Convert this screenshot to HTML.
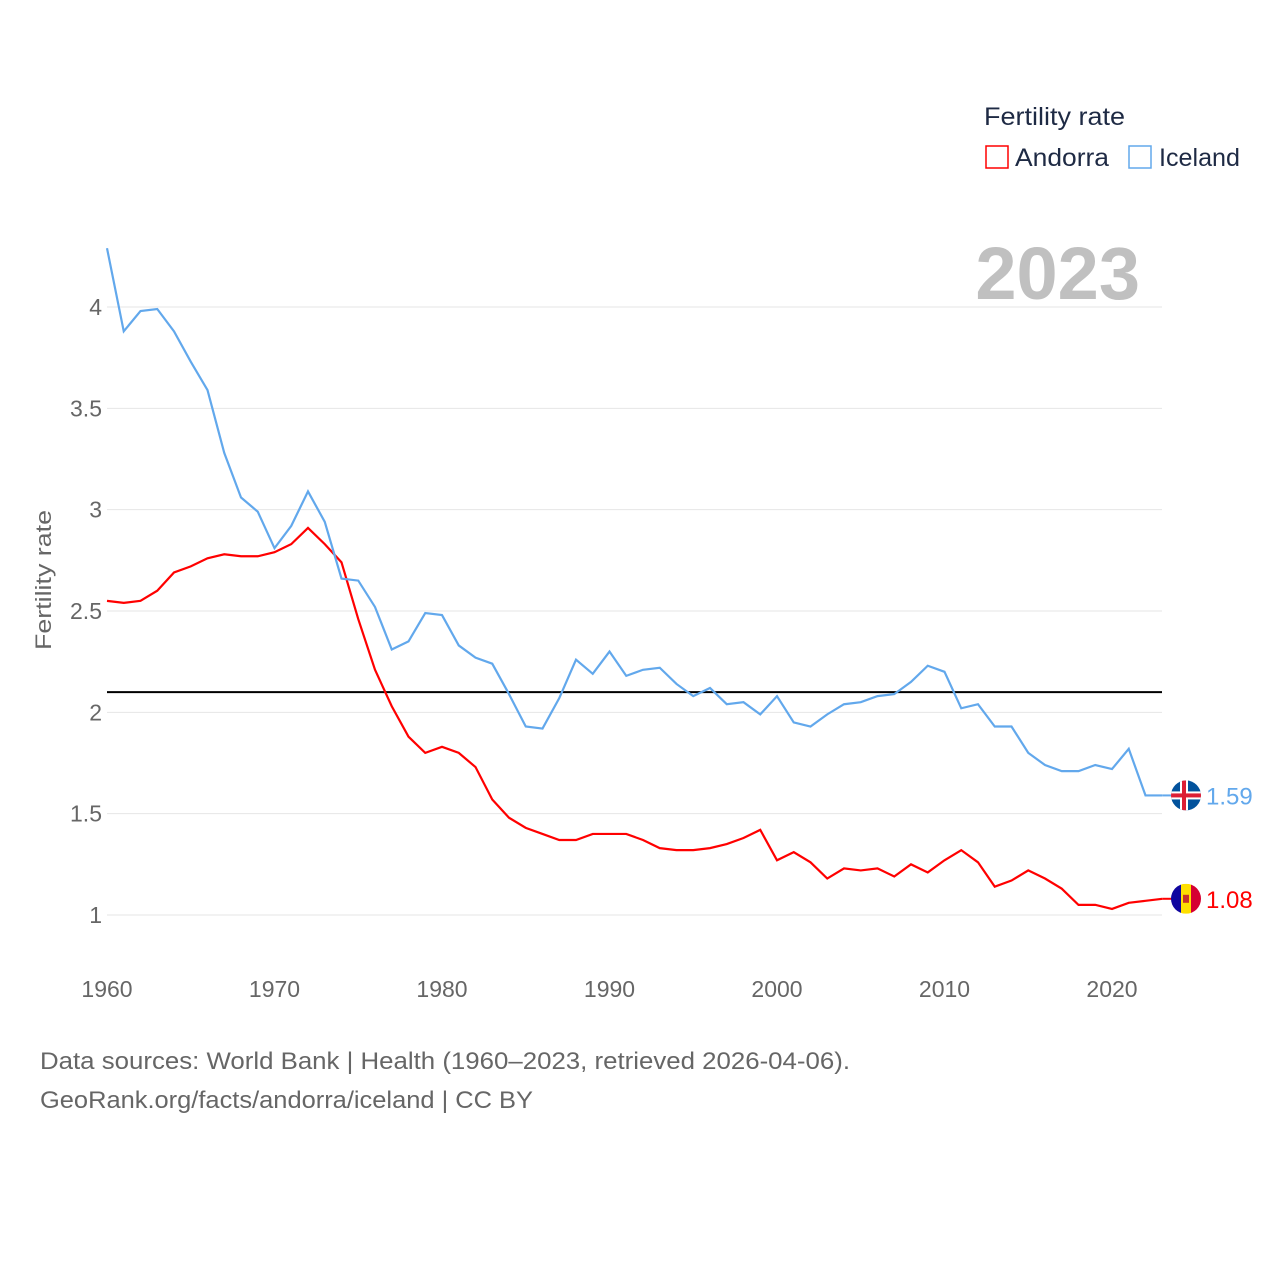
<!DOCTYPE html>
<html><head><meta charset="utf-8">
<style>
body{margin:0;background:#fff;font-family:"Liberation Sans",sans-serif;}
svg text{font-family:"Liberation Sans",sans-serif;}
</style></head>
<body>
<svg id="chart" width="1280" height="1280" viewBox="0 0 1280 1280" xmlns="http://www.w3.org/2000/svg">
<rect width="1280" height="1280" fill="#fff"/>
<g id="grid"></g>
<g id="yticks"></g>
<g id="xticks"></g>
<text transform="translate(51,580) rotate(-90)" text-anchor="middle" font-size="22" fill="#666" textLength="140" lengthAdjust="spacingAndGlyphs">Fertility rate</text>
<text x="1140" y="299" text-anchor="end" font-size="74" font-weight="bold" fill="#c0c0c0">2023</text>
<g>
<text x="984" y="125" font-size="25" fill="#1e2a44" textLength="141" lengthAdjust="spacingAndGlyphs">Fertility rate</text>
<rect x="986" y="146" width="22" height="22" fill="none" stroke="#ff0000" stroke-width="1.5"/>
<text x="1015" y="166" font-size="25" fill="#1e2a44" textLength="94" lengthAdjust="spacingAndGlyphs">Andorra</text>
<rect x="1129" y="146" width="22" height="22" fill="none" stroke="#62a8ec" stroke-width="1.5"/>
<text x="1159" y="166" font-size="25" fill="#1e2a44" textLength="81" lengthAdjust="spacingAndGlyphs">Iceland</text>
</g>
<line id="refline" x1="107" x2="1162" stroke="#000" stroke-width="2"/>
<polyline id="andorra" fill="none" stroke="#ff0000" stroke-width="2.2"/>
<polyline id="iceland" fill="none" stroke="#62a8ec" stroke-width="2.2"/>
<g id="ends"></g>
<text x="40" y="1069" font-size="24" fill="#666" textLength="810" lengthAdjust="spacingAndGlyphs">Data sources: World Bank | Health (1960–2023, retrieved 2026-04-06).</text>
<text x="40" y="1108" font-size="24" fill="#666" textLength="493" lengthAdjust="spacingAndGlyphs">GeoRank.org/facts/andorra/iceland | CC BY</text>
</svg>
<script>
const years = [];
for (let y = 1960; y <= 2023; y++) years.push(y);
const iceland = [4.29,3.88,3.98,3.99,3.88,3.73,3.59,3.28,3.06,2.99,2.81,2.92,3.09,2.94,2.66,2.65,2.52,2.31,2.35,2.49,2.48,2.33,2.27,2.24,2.09,1.93,1.92,2.07,2.26,2.19,2.30,2.18,2.21,2.22,2.14,2.08,2.12,2.04,2.05,1.99,2.08,1.95,1.93,1.99,2.04,2.05,2.08,2.09,2.15,2.23,2.20,2.02,2.04,1.93,1.93,1.80,1.74,1.71,1.71,1.74,1.72,1.82,1.59,1.59];
const andorra = [2.55,2.54,2.55,2.60,2.69,2.72,2.76,2.78,2.77,2.77,2.79,2.83,2.91,2.83,2.74,2.46,2.21,2.03,1.88,1.80,1.83,1.80,1.73,1.57,1.48,1.43,1.40,1.37,1.37,1.40,1.40,1.40,1.37,1.33,1.32,1.32,1.33,1.35,1.38,1.42,1.27,1.31,1.26,1.18,1.23,1.22,1.23,1.19,1.25,1.21,1.27,1.32,1.26,1.14,1.17,1.22,1.18,1.13,1.05,1.05,1.03,1.06,1.07,1.08];
const yTicks = [1,1.5,2,2.5,3,3.5,4];
const yTickLabels = ["1","1.5","2","2.5","3","3.5","4"];
const xTicks = [1960,1970,1980,1990,2000,2010,2020];
const refValue = 2.1;

const NS = "http://www.w3.org/2000/svg";
const xs = y => 107 + (y - 1960) * 16.75;
const ys = v => 915 - (v - 1) * 202.67;
function mk(tag, attrs, parent) {
  const e = document.createElementNS(NS, tag);
  for (const k in attrs) e.setAttribute(k, attrs[k]);
  parent.appendChild(e); return e;
}
const grid = document.getElementById('grid'), yt = document.getElementById('yticks'), xt = document.getElementById('xticks');
yTicks.forEach((v, i) => {
  const l = mk('line', {x1: 107, x2: 1162, y1: ys(v), y2: ys(v), stroke: '#e6e6e6', 'stroke-width': 1}, grid);
  
  
  const t = mk('text', {x: 102, y: ys(v) + 8, 'text-anchor': 'end', 'font-size': 23, fill: '#666'}, yt);
  t.textContent = yTickLabels[i];
  
  
});
xTicks.forEach(y => {
  const t = mk('text', {x: xs(y), y: 997, 'text-anchor': 'middle', 'font-size': 23, fill: '#666'}, xt);
  t.textContent = y;
  
  
});
const rl = document.getElementById('refline');
rl.setAttribute('y1', ys(refValue)); rl.setAttribute('y2', ys(refValue));
document.getElementById('andorra').setAttribute('points', andorra.map((v, i) => xs(years[i]) + ',' + ys(v)).join(' '));
document.getElementById('iceland').setAttribute('points', iceland.map((v, i) => xs(years[i]) + ',' + ys(v)).join(' '));

const ends = document.getElementById('ends');
function endLabel(vals, color, name, flag) {
  const v = vals[vals.length - 1], x = xs(years[years.length - 1]), y = ys(v);
  const ln = mk('line', {x1: x, x2: 1172, y1: y, y2: y, stroke: color, 'stroke-width': 2}, ends);
  
  
  const g = mk('g', {}, ends);
  
  
  const cx = 1186;
  const clip = mk('clipPath', {id: 'c' + name}, g);
  mk('circle', {cx: cx, cy: y, r: 15}, clip);
  const inner = mk('g', {'clip-path': 'url(#c' + name + ')'}, g);
  if (flag === 'is') {
    mk('rect', {x: cx - 15, y: y - 15, width: 30, height: 30, fill: '#02529c'}, inner);
    mk('rect', {x: cx - 15, y: y - 4, width: 30, height: 8, fill: '#fff'}, inner);
    mk('rect', {x: cx - 6, y: y - 15, width: 8, height: 30, fill: '#fff'}, inner);
    mk('rect', {x: cx - 15, y: y - 2, width: 30, height: 4, fill: '#dc1e35'}, inner);
    mk('rect', {x: cx - 4, y: y - 15, width: 4, height: 30, fill: '#dc1e35'}, inner);
  } else {
    mk('rect', {x: cx - 15, y: y - 15, width: 10, height: 30, fill: '#10069f'}, inner);
    mk('rect', {x: cx - 5, y: y - 15, width: 10, height: 30, fill: '#fedf00'}, inner);
    mk('rect', {x: cx + 5, y: y - 15, width: 10, height: 30, fill: '#d50032'}, inner);
    mk('rect', {x: cx - 3, y: y - 4, width: 6, height: 8, fill: '#c7302a'}, inner);
  }
  const t = mk('text', {x: 1206, y: y + 9, 'font-size': 24, fill: color}, ends);
  t.textContent = v.toFixed(2);
  
  
}
endLabel(iceland, '#62a8ec', 'iceland', 'is');
endLabel(andorra, '#ff0000', 'andorra', 'ad');
</script>
</body></html>
